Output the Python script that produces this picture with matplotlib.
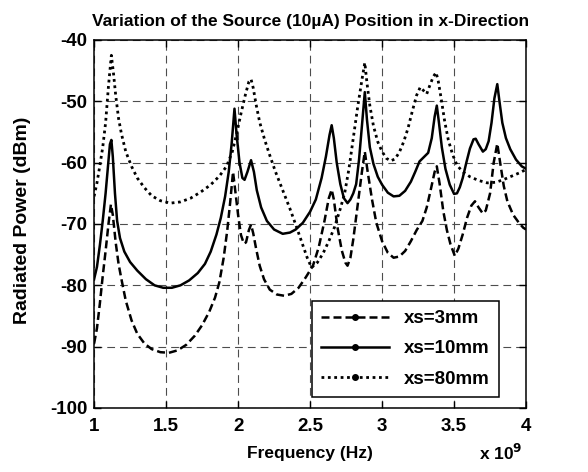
import matplotlib.pyplot as plt
import matplotlib.lines as mlines
import numpy as np

plt.rcParams['font.family'] = ['Liberation Sans', 'DejaVu Sans']
plt.rcParams['font.weight'] = 'bold'
plt.rcParams['axes.unicode_minus'] = False
plt.rcParams['mathtext.default'] = 'bf'

# xs = 3 mm (dashed)
freq_3mm = [1.0, 1.02, 1.04, 1.06, 1.08, 1.10, 1.117, 1.13, 1.15, 1.17, 1.19, 1.22, 1.26, 1.30,
            1.35, 1.40, 1.46, 1.52, 1.58, 1.64, 1.70, 1.75, 1.80, 1.84, 1.87, 1.90, 1.925, 1.945,
            1.965, 1.98, 2.0, 2.02, 2.04, 2.055, 2.075, 2.09, 2.105, 2.125, 2.15, 2.18, 2.22,
            2.27, 2.32, 2.37, 2.42, 2.47, 2.52, 2.56, 2.60, 2.63, 2.65, 2.665, 2.69, 2.72, 2.745,
            2.76, 2.78, 2.80, 2.83, 2.86, 2.88, 2.90, 2.93, 2.96, 3.0, 3.04, 3.08, 3.12, 3.16,
            3.20, 3.24, 3.28, 3.31, 3.34, 3.365, 3.38, 3.40, 3.425, 3.45, 3.475, 3.505, 3.53,
            3.56, 3.59, 3.62, 3.645, 3.67, 3.70, 3.72, 3.75, 3.775, 3.80, 3.82, 3.845, 3.87,
            3.91, 3.95, 3.98, 4.0]
power_3mm = [-89.5, -87.0, -83.0, -78.5, -74.4, -70.0, -66.8, -68.5, -73.0, -76.5, -79.0, -82.5,
             -85.7, -87.9, -89.5, -90.4, -90.9, -91.0, -90.6, -89.7, -88.2, -86.5, -84.3, -82.0,
             -79.5, -75.5, -71.0, -66.5, -61.5, -64.5, -68.5, -71.8, -73.2, -73.0, -71.0, -70.1,
             -71.5, -74.0, -76.8, -79.0, -80.7, -81.5, -81.7, -81.4, -80.4, -78.7, -76.8, -73.8,
             -69.5, -65.8, -64.4, -66.0, -70.5, -74.3, -76.3, -76.8, -75.5, -72.5, -67.0, -61.5,
             -58.2, -61.5, -66.0, -69.8, -72.8, -74.7, -75.5, -75.3, -74.4, -72.8, -71.0, -69.5,
             -67.3, -64.2, -61.5, -60.6, -63.5, -67.9, -71.0, -73.3, -75.2, -74.0, -71.7, -69.0,
             -67.0, -66.3, -67.3, -68.3, -67.8, -65.0, -60.0, -56.9, -60.0, -63.8, -66.3, -68.5,
             -69.8, -70.6, -70.9]

# xs = 10 mm (solid)
freq_10mm = [1.0, 1.02, 1.04, 1.06, 1.08, 1.095, 1.11, 1.12, 1.13, 1.145, 1.16, 1.18, 1.21, 1.25,
             1.30, 1.36, 1.42, 1.48, 1.54, 1.60, 1.66, 1.72, 1.77, 1.81, 1.85, 1.88, 1.91, 1.935,
             1.955, 1.975, 1.99, 2.01, 2.03, 2.045, 2.065, 2.09, 2.11, 2.13, 2.16, 2.20, 2.25,
             2.31, 2.36, 2.40, 2.45, 2.50, 2.54, 2.58, 2.61, 2.635, 2.65, 2.665, 2.685, 2.71,
             2.735, 2.76, 2.78, 2.80, 2.82, 2.84, 2.86, 2.88, 2.895, 2.915, 2.94, 2.97, 3.0,
             3.04, 3.08, 3.12, 3.16, 3.20, 3.23, 3.26, 3.29, 3.32, 3.345, 3.365, 3.38, 3.395,
             3.415, 3.44, 3.47, 3.50, 3.52, 3.54, 3.56, 3.585, 3.61, 3.635, 3.65, 3.67, 3.70,
             3.72, 3.74, 3.76, 3.78, 3.80, 3.815, 3.835, 3.86, 3.89, 3.93, 3.97, 4.0]
power_10mm = [-79.0, -77.0, -73.5, -69.5, -65.0, -61.0, -57.0, -56.3, -59.0, -65.0, -69.5, -72.3,
              -74.5, -76.2, -77.6, -79.0, -80.0, -80.4, -80.4, -80.0, -79.2, -78.0, -76.5, -74.5,
              -71.7, -69.0, -65.5, -61.5, -57.0, -51.2, -55.5, -60.0, -62.5, -62.8, -61.5, -59.6,
              -61.5, -64.5, -67.3, -69.5, -70.9, -71.6, -71.4, -70.9, -69.8, -68.0, -66.0, -62.5,
              -59.0, -55.5, -53.9, -56.0, -60.0, -63.5, -65.8, -66.6, -66.0, -65.0, -63.5, -59.5,
              -54.0, -48.5, -53.0, -57.5, -60.2, -62.3, -63.6, -64.9, -65.5, -65.4, -64.6, -63.1,
              -61.5, -59.8, -59.1, -58.4, -56.0, -52.5, -50.7, -53.5, -57.5, -61.0, -63.6, -65.1,
              -65.0, -64.0, -62.5, -60.0, -57.7, -56.2, -56.1, -57.0, -58.2, -57.8, -56.5, -53.5,
              -49.5, -47.2, -50.0, -53.5, -56.0, -57.8, -59.5, -60.6, -61.0]

# xs = 80 mm (dotted)
freq_80mm = [1.0, 1.02, 1.04, 1.06, 1.08, 1.10, 1.12, 1.135, 1.15, 1.17, 1.19, 1.22, 1.26, 1.30,
             1.35, 1.40, 1.46, 1.53, 1.60, 1.67, 1.74, 1.81, 1.87, 1.92, 1.96, 1.99, 2.02, 2.05,
             2.075, 2.09, 2.105, 2.125, 2.15, 2.185, 2.22, 2.26, 2.31, 2.36, 2.40, 2.44, 2.48,
             2.51, 2.55, 2.59, 2.63, 2.67, 2.71, 2.74, 2.77, 2.80, 2.83, 2.86, 2.88, 2.895, 2.915,
             2.94, 2.97, 3.0, 3.03, 3.06, 3.09, 3.12, 3.15, 3.18, 3.21, 3.24, 3.265, 3.29, 3.31,
             3.33, 3.355, 3.375, 3.39, 3.41, 3.435, 3.46, 3.49, 3.52, 3.56, 3.61, 3.67, 3.73,
             3.79, 3.84, 3.90, 3.96, 4.0]
power_80mm = [-65.5, -63.3, -60.5, -57.5, -53.5, -47.5, -42.5, -45.5, -49.0, -52.8, -55.3, -58.2,
              -60.6, -62.5, -64.1, -65.4, -66.2, -66.6, -66.4, -65.8, -64.8, -63.6, -62.2, -60.6,
              -58.2, -55.3, -52.0, -49.0, -46.8, -46.4, -47.8, -50.5, -53.4, -56.3, -58.8, -61.5,
              -64.5, -67.5, -70.1, -72.8, -75.5, -77.1, -76.3, -74.8, -72.8, -70.5, -67.5, -65.0,
              -61.0, -56.0, -51.0, -46.5, -43.7, -47.0, -50.7, -54.0, -56.6, -58.2, -59.3, -59.7,
              -59.4, -58.3, -56.6, -54.4, -51.6, -49.0, -47.7, -48.3, -48.8, -47.5, -46.0, -45.3,
              -46.7, -49.5, -53.3, -56.3, -58.7, -60.4, -61.5, -62.3, -62.9, -63.3, -63.2, -62.8,
              -62.2, -61.6, -61.1]

labels = ['xs=3mm', 'xs=10mm', 'xs=80mm']
x_ticks = [1, 1.5, 2, 2.5, 3, 3.5, 4]
x_tick_labels = ['1', '1.5', '2', '2.5', '3', '3.5', '4']
y_ticks = [-100, -90, -80, -70, -60, -50, -40]

FS = 12.5
LW = 1.8
dash_style = (0, (3.2, 1.6))
dot_style = (0, (1, 1.3))

fig = plt.figure(figsize=(5.88, 4.72), dpi=100)
ax = fig.add_axes([0.16, 0.1356, 0.7347, 0.7797])

ax.plot(freq_3mm, power_3mm, color='black', linestyle=dash_style, linewidth=LW)
ax.plot(freq_10mm, power_10mm, color='black', linestyle='-', linewidth=LW)
ax.plot(freq_80mm, power_80mm, color='black', linestyle=dot_style, linewidth=2.0)

ax.set_xlim(1, 4)
ax.set_ylim(-100, -40)
ax.set_xticks(x_ticks)
ax.set_xticklabels(x_tick_labels)
ax.set_yticks(y_ticks)
ax.tick_params(direction='in', length=5, labelsize=13.5, width=1, top=True, right=True)
ax.tick_params(axis='x', pad=7)
ax.tick_params(axis='y', pad=5)
for lab in ax.get_xticklabels() + ax.get_yticklabels():
    lab.set_fontweight('bold')

ax.grid(True, color='0.3', linestyle=(0, (7, 4.5)), linewidth=0.8)
for s in ax.spines.values():
    s.set_linewidth(1.1)

ax.set_title('Variation of the Source (10\u00b5A) Position in x-Direction',
             fontsize=FS, fontweight='bold', pad=10)
ax.set_xlabel('Frequency (Hz)', fontsize=FS, fontweight='bold', labelpad=8)
ax.set_ylabel('Radiated Power (dBm)', fontsize=14, fontweight='bold')
ax.yaxis.set_label_coords(-0.145, 0.51)
ax.text(0.992, -0.141, r'x 10$^{9}$', transform=ax.transAxes, fontsize=FS,
        fontweight='bold', ha='right', va='baseline')

# Legend
h1 = mlines.Line2D([], [], color='black', linestyle=dash_style, linewidth=LW, marker='o', markersize=4)
h2 = mlines.Line2D([], [], color='black', linestyle='-', linewidth=LW, marker='o', markersize=4)
h3 = mlines.Line2D([], [], color='black', linestyle=dot_style, linewidth=2.0, marker='o', markersize=4)
leg = ax.legend(handles=[h1, h2, h3], labels=labels, loc='lower right',
                bbox_to_anchor=(0.9375, 0.030), borderaxespad=0, numpoints=1,
                handlelength=3.6, fancybox=False, framealpha=1,
                edgecolor='black', prop={'weight': 'bold', 'size': 13.5},
                handletextpad=0.8, labelspacing=0.7, borderpad=0.5)
leg.get_frame().set_linewidth(1.1)

fig.savefig('out.png', dpi=100)
